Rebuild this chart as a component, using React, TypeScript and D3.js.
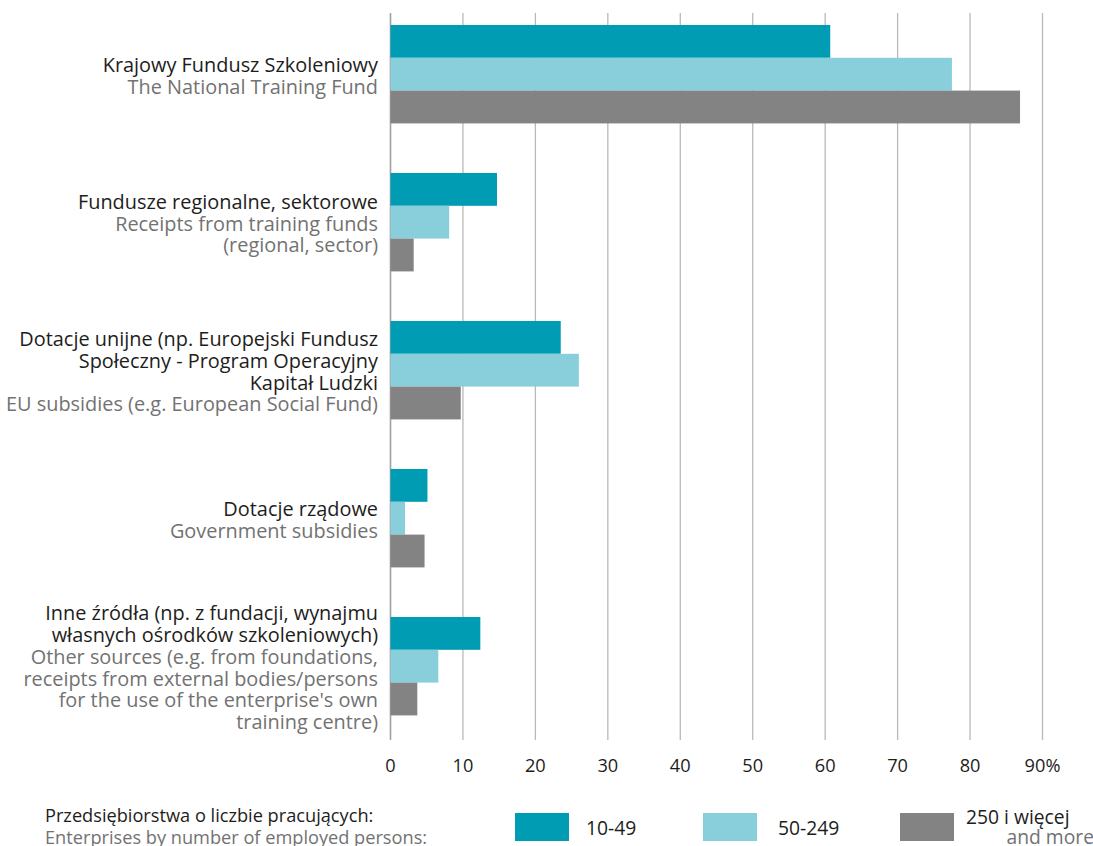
import React from "react";
import * as d3 from "d3";

const categories = ["KFS", "Regional", "EU", "Gov", "Other"];
const labelsPl: string[][] = [
  ["Krajowy Fundusz Szkoleniowy"],
  ["Fundusze regionalne, sektorowe"],
  ["Dotacje unijne (np. Europejski Fundusz", "Społeczny - Program Operacyjny", "Kapitał Ludzki"],
  ["Dotacje rządowe"],
  ["Inne źródła (np. z fundacji, wynajmu", "własnych ośrodków szkoleniowych)"],
];
const labelsEn: string[][] = [
  ["The National Training Fund"],
  ["Receipts from training funds", "(regional, sector)"],
  ["EU subsidies (e.g. European Social Fund)"],
  ["Government subsidies"],
  [
    "Other sources (e.g. from foundations,",
    "receipts from external bodies/persons",
    "for the use of the enterprise's own",
    "training centre)",
  ],
];
const seriesKeys = ["10-49", "50-249", "250+"];
const values10_49 = [60.7, 14.7, 23.5, 5.1, 12.4];
const values50_249 = [77.5, 8.1, 26.0, 2.0, 6.6];
const values250 = [86.9, 3.2, 9.7, 4.7, 3.7];
const tickValues = [0, 10, 20, 30, 40, 50, 60, 70, 80, 90];
const legendTitlePl = "Przedsiębiorstwa o liczbie pracujących:";
const legendTitleEn = "Enterprises by number of employed persons:";

const COLORS = ["#009cb4", "#89cfdb", "#828382"];
const DARK = "#1d1d1b";
const GREY = "#727272";
const FONT = "'Open Sans', 'Noto Sans', sans-serif";
const FS_LABEL = 19.9;
const FS_TICK = 18.2;
const FS_LEG = 19.3;
const LH = 21.7;

export default function App() {
  const W = 1093;
  const H = 846;
  const x = d3.scaleLinear().domain([0, 90]).range([390.5, 1042.5]);
  const y = d3
    .scaleBand<string>()
    .domain(categories)
    .range([0.2, 740.2])
    .paddingInner(0.335)
    .paddingOuter(0.1675);
  const yi = d3.scaleBand<string>().domain(seriesKeys).range([0, y.bandwidth()]);
  const series = [values10_49, values50_249, values250];
  const gridTop = 13;
  const gridBottom = 740;

  return (
    <svg
      width={W}
      height={H}
      style={{ position: "absolute", left: 0, top: 0, background: "#fff" }}
      fontFamily={FONT}
    >
      {tickValues.map((t) => (
        <line
          key={"g" + t}
          x1={x(t)}
          x2={x(t)}
          y1={gridTop}
          y2={gridBottom}
          stroke={t === 0 ? "#a0a0a0" : "#b9b9b9"}
          strokeWidth={t === 0 ? 1.6 : 1.3}
        />
      ))}
      {categories.map((c, ci) => (
        <g key={c} transform={`translate(0,${y(c)})`}>
          {series.map((vals, si) => (
            <rect
              key={si}
              x={x(0)}
              y={yi(seriesKeys[si])}
              width={x(vals[ci]) - x(0)}
              height={yi.bandwidth()}
              fill={COLORS[si]}
            />
          ))}
        </g>
      ))}
      {categories.map((c, ci) => {
        const lines = [
          ...labelsPl[ci].map((t) => ({ t, fill: DARK })),
          ...labelsEn[ci].map((t) => ({ t, fill: GREY })),
        ];
        const center = (y(c) as number) + y.bandwidth() / 2;
        const first = center - ((lines.length - 1) * LH) / 2 + 8.5;
        return (
          <text key={"l" + c} textAnchor="end" fontSize={FS_LABEL}>
            {lines.map((ln, li) => (
              <tspan key={li} x={378} y={first + li * LH} fill={ln.fill}>
                {ln.t}
              </tspan>
            ))}
          </text>
        );
      })}
      {tickValues.map((t) => (
        <text
          key={"t" + t}
          x={x(t)}
          y={771.5}
          textAnchor="middle"
          fontSize={FS_TICK}
          fill={DARK}
        >
          {t === 90 ? `${t}%` : t}
        </text>
      ))}
      <text x={45} y={822} fontSize={FS_TICK} fill={DARK}>
        {legendTitlePl}
      </text>
      <text x={45} y={843.5} fontSize={FS_TICK} fill={GREY}>
        {legendTitleEn}
      </text>
      {[
        { sx: 515, tx: 586, label: "10-49" },
        { sx: 703, tx: 778, label: "50-249" },
      ].map((l, i) => (
        <g key={"lg" + i}>
          <rect x={l.sx} y={813} width={54} height={28} fill={COLORS[i]} />
          <text x={l.tx} y={835} fontSize={FS_LEG} fill={DARK}>
            {l.label}
          </text>
        </g>
      ))}
      <rect x={900} y={813} width={54} height={28} fill={COLORS[2]} />
      <text x={966} y={824} fontSize={FS_LEG} fill={DARK}>
        250 i więcej
      </text>
      <text x={1094} y={843.5} fontSize={FS_LEG} fill={GREY} textAnchor="end">
        and more
      </text>
    </svg>
  );
}
